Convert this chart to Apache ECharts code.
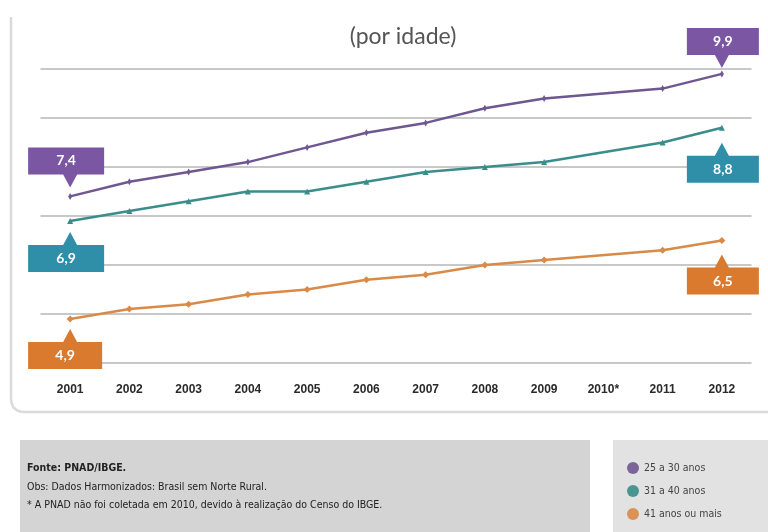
<!DOCTYPE html>
<html>
<head>
<meta charset="utf-8">
<script src="https://cdn.jsdelivr.net/npm/echarts@6/dist/echarts.min.js"></script>
<style>
html,body{margin:0;padding:0;background:#fff;}
#c{width:768px;height:532px;}
</style>
</head>
<body>
<div id="c"></div>
<script>
const years = ['2001','2002','2003','2004','2005','2006','2007','2008','2009','2010*','2011','2012'];
const s25 = [7.4, 7.7, 7.9, 8.1, 8.4, 8.7, 8.9, 9.2, 9.4, null, 9.6, 9.9];
const s31 = [6.9, 7.1, 7.3, 7.5, 7.5, 7.7, 7.9, 8.0, 8.1, null, 8.5, 8.8];
const s41 = [4.9, 5.1, 5.2, 5.4, 5.5, 5.7, 5.8, 6.0, 6.1, null, 6.3, 6.5];
const seriesNames = ['25 a 30 anos', '31 a 40 anos', '41 anos ou mais'];
const yMin = 4, yMax = 10, yStep = 1;
const titleText = '(por idade)';
const notes = ['Fonte: PNAD/IBGE.', 'Obs: Dados Harmonizados: Brasil sem Norte Rural.', '* A PNAD não foi coletada em 2010, devido à realização do Censo do IBGE.'];

const fmt = v => v.toFixed(1).replace('.', ',');

function callout(idx, value, dir, W, tx, gap, color) {
  const H = 40;
  let path, offset, lblOff;
  if (dir === 'down') {
    path = `path://M0,0 H${W} V27 H${tx + 7} L${tx},${H} L${tx - 7},27 H0 Z`;
    offset = [W / 2 - tx, -gap - H / 2];
    lblOff = [0, 13.5 - H / 2];
  } else {
    path = `path://M0,13 H${tx - 7} L${tx},0 L${tx + 7},13 H${W} V${H} H0 Z`;
    offset = [W / 2 - tx, gap + H / 2];
    lblOff = [0, 26.5 - H / 2];
  }
  return {
    coord: [idx, value],
    value: fmt(value),
    symbol: path,
    symbolSize: [W, H],
    symbolKeepAspect: false,
    symbolOffset: offset,
    itemStyle: { color: color },
    label: {
      show: true, position: 'inside', offset: lblOff,
      formatter: fmt(value), color: '#fff', fontSize: 14, fontWeight: 'bold',
      fontFamily: 'Lato, "Liberation Sans", sans-serif'
    }
  };
}

const lineCols = ['#6f5790', '#3a8d8a', '#d98a48'];
const boxCols = ['#7b57a3', '#2f8ea8', '#d97a2e'];
const symbols = [['diamond', [4, 7]], ['triangle', 6], ['diamond', 7]];
const dataSets = [s25, s31, s41];
const last = years.length - 1;
const calloutDefs = [
  [callout(0, s25[0], 'down', 76, 42, 9, boxCols[0]), callout(last, s25[last], 'down', 72, 35, 6, boxCols[0])],
  [callout(0, s31[0], 'up', 76, 42, 11, boxCols[1]), callout(last, s31[last], 'up', 72, 35, 15, boxCols[1])],
  [callout(0, s41[0], 'up', 74, 42, 10, boxCols[2]), callout(last, s41[last], 'up', 72, 35, 14, boxCols[2])]
];

const series = dataSets.map((d, i) => ({
  name: seriesNames[i],
  type: 'line',
  data: d,
  connectNulls: true,
  symbol: symbols[i][0],
  symbolSize: symbols[i][1],
  showSymbol: true,
  color: lineCols[i],
  lineStyle: { width: 2.5, color: lineCols[i] },
  itemStyle: { color: lineCols[i] },
  z: 3,
  markPoint: { data: calloutDefs[i], animation: false, z: 5 }
}));

const noteFont = '"Liberation Sans Narrow", "DejaVu Sans Condensed", sans-serif';

const chart = echarts.init(document.getElementById('c'));
chart.setOption({
  animation: false,
  backgroundColor: '#fff',
  title: {
    text: titleText, left: 398, top: 20, textAlign: 'center',
    textStyle: { fontSize: 23, fontWeight: 'normal', color: '#555', fontFamily: 'Lato, "Liberation Sans", sans-serif' }
  },
  grid: { left: 40.5, right: 16.5, top: 69, bottom: 169, containLabel: false },
  xAxis: {
    type: 'category', data: years, boundaryGap: true,
    axisLine: { show: false }, axisTick: { show: false },
    axisLabel: { margin: 21, fontSize: 12, fontWeight: 'bold', color: '#2a2a2a', fontFamily: '"Liberation Sans", Arial, sans-serif' }
  },
  yAxis: {
    type: 'value', min: yMin, max: yMax, interval: yStep,
    axisLabel: { show: false }, axisLine: { show: false }, axisTick: { show: false },
    splitLine: { lineStyle: { color: '#c8c8c8', width: 2 } }
  },
  legend: {
    data: seriesNames, orient: 'vertical', left: 622, top: 457,
    icon: 'circle', itemWidth: 12, itemHeight: 12, itemGap: 11, itemStyle: { opacity: 0.9 },
    textStyle: { fontSize: 10.5, color: '#444', fontFamily: noteFont }
  },
  graphic: [
    { type: 'polyline', shape: { points: [[11,17],[11,398],[11.5,403],[13.5,407.5],[17,410.5],[21,411.7],[25,412],[770,412]] }, style: { fill: null, stroke: '#dadada', lineWidth: 2.5 }, silent: true, z: -1 },
    { type: 'rect', shape: { x: 20, y: 440, width: 570, height: 100 }, style: { fill: '#d4d4d4' }, silent: true, z: -1 },
    { type: 'rect', shape: { x: 613, y: 440, width: 160, height: 100 }, style: { fill: '#e2e2e2' }, silent: true, z: -1 },
    { type: 'text', left: 27, top: 463, style: { text: notes[0], fill: '#222', font: 'bold 10.5px ' + noteFont } },
    { type: 'text', left: 27, top: 482, style: { text: notes[1], fill: '#222', font: '10.5px ' + noteFont } },
    { type: 'text', left: 27, top: 500, style: { text: notes[2], fill: '#222', font: '10.5px ' + noteFont } }
  ],
  series: series
});
</script>
</body>
</html>
